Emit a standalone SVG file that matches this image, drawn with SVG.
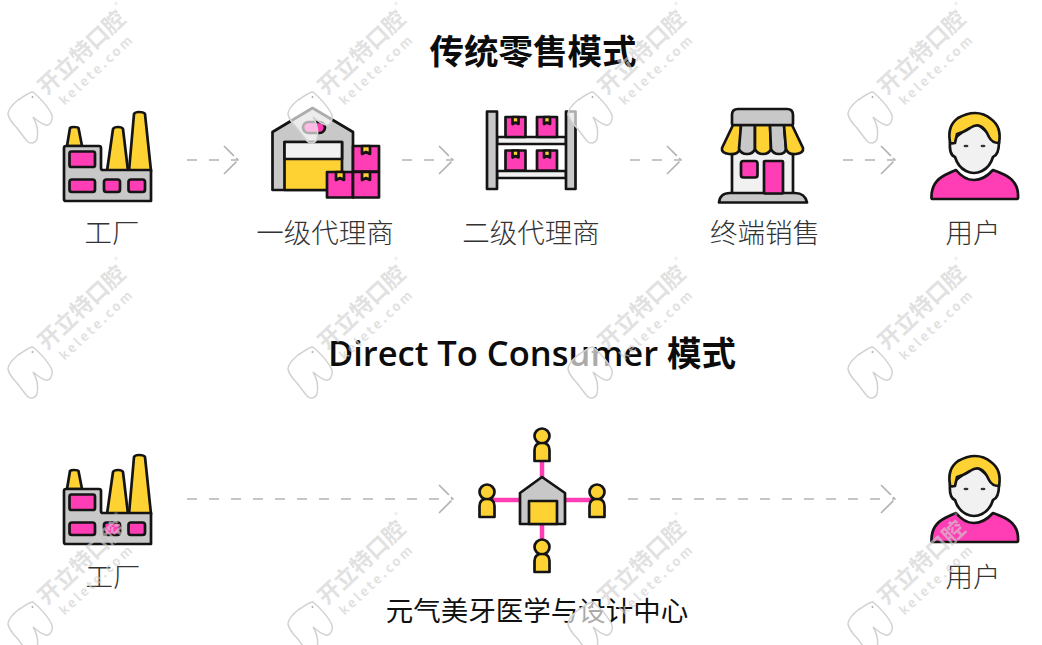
<svg xmlns="http://www.w3.org/2000/svg" xmlns:xlink="http://www.w3.org/1999/xlink" width="1042" height="645" viewBox="0 0 1042 645">
<style>
.k{stroke:#141414;stroke-width:2.700;stroke-linejoin:round;stroke-linecap:round}
.y{fill:#ffd233}.p{fill:#ff3db4}.g{fill:#c8c8c8}.l{fill:#f1f1f1}
.t{font-family:"Open Sans","Noto Sans CJK SC",sans-serif;font-weight:600;fill:#0c0c0c;text-anchor:middle}
.c{font-family:"Noto Sans CJK SC",sans-serif;font-weight:200;font-size:27.500px;fill:#333;text-anchor:middle}
.a{fill:none;stroke:#b4b4b4;stroke-width:1.700;stroke-dasharray:10 12}
.h{fill:none;stroke:#b4b4b4;stroke-width:1.700}
.w{fill:#d0d0d0;fill-opacity:.65;font-family:"Noto Sans CJK SC",sans-serif;text-anchor:middle}
</style>
<defs>
<g id="factory">
<path class="k y" d="M67 146L70 128Q71 127 74 127Q78 127 78.500 128L82 146Z"/>
<path class="k y" d="M107 171L113 129Q114 127 118 127Q122 127 123 129L128 171Z"/>
<path class="k y" d="M129 171L134 114Q135 112 139 112Q144 112 145 114L151 171Z"/>
<path class="k g" d="M64 148Q64 146 66 146L99 146Q101 146 101 148L101 168Q101 170 103 170L151 170L151 201L66 201Q64 201 64 199Z"/>
<rect class="k p" x="69.500" y="151.500" width="25.500" height="15.500" rx="2"/>
<rect class="k p" x="69.500" y="179.500" width="25.500" height="12.500" rx="2.500"/>
<rect class="k p" x="104" y="179.500" width="16" height="12.500" rx="2.500"/>
<rect class="k p" x="128.500" y="179.500" width="16.500" height="12.500" rx="2.500"/>
</g>
<g id="box">
<rect class="k p" width="26" height="25.500"/>
<path class="k y" d="M9 0L17 0L17 8L13 6L9 8Z" stroke-width="2"/>
</g>
<g id="sbox">
<rect class="k p" width="20" height="20" stroke-width="2.200"/>
<path class="k y" d="M7 0L13 0L13 7L10 5.500L7 7Z" stroke-width="1.600"/>
</g>
<g id="person">
<path class="k p" d="M931.500 198Q931 182 945 175Q951 172 956 170Q964 180 974 180Q984 180 993 170Q999 172 1005 175Q1019 182 1018 198Q1018 199 1016 199L933 199Q931.500 199 931.500 198Z"/>
<path class="k l" d="M950 142Q949 155 955 157Q958 167 966 171Q974 175 982 171Q990 167 993 157Q999 155 999 142L975 122Z"/>
<path class="k y" d="M955 143Q950 144 950 142Q947 126 958 118Q967 113 975 113Q984 113 991 119Q1002 127 999 143Q992 143 989 137Q985 128 980 126Q976 124 970 128Q962 133 957 134Z"/>
<ellipse cx="966" cy="146" rx="2.500" ry="1.300" fill="#333"/>
<ellipse cx="983" cy="146" rx="2.500" ry="1.300" fill="#333"/>
</g>
<g id="mini">
<circle class="k y" cx="0" cy="-24" r="7.500" stroke-width="2"/>
<path class="k y" d="M-7.500 1L-7.500 -10Q-7.500 -17 0 -17Q7.500 -17 7.500 -10L7.500 1Z" stroke-width="2"/>
</g>
<g id="chev"><path class="h" d="M0 -14L14 0L0 14" stroke-dasharray="14 3 3 2 22"/></g>
<g id="wm">
<path d="M33 92C38 96 48 106 52 115C53 121 50 126 46 125C41 124 37 120 33 117C36 122 39 130 37 139C35 144 30 144 27 141C23 136 20 132 17 128C13 124 9 119 8 114C8 109 12 105 18 100C23 97 29 92 33 92Z" fill="#fff" fill-opacity=".65" stroke="#d2d2d2" stroke-width="1.500"/>
<circle cx="32.500" cy="97" r="1" fill="#aaa"/>
<text class="w" font-size="22" font-weight="700" transform="translate(82 53) rotate(-43)" y="7">开立特口腔</text>
<text class="w" font-size="13" font-weight="700" letter-spacing="2.600" transform="translate(97 70) rotate(-43)" y="4">kelete.com</text>
<text class="w" font-size="8" transform="translate(116 6)" y="2">®</text>
</g>
</defs>

<rect width="1042" height="645" fill="#fff"/>

<g id="connectors">
<path class="a" d="M187 160H238"/><use href="#chev" x="224" y="160"/>
<path class="a" d="M402 160H453"/><use href="#chev" x="439" y="160"/>
<path class="a" d="M630 160H681"/><use href="#chev" x="667" y="160"/>
<path class="a" d="M843 160H895"/><use href="#chev" x="881" y="160"/>
<path class="a" d="M187 499H453" stroke-dasharray="16 17"/><use href="#chev" x="439" y="499"/>
<path class="a" d="M628 499H895" stroke-dasharray="16 17"/><use href="#chev" x="881" y="499"/>
</g>

<g id="title-top"><text class="t" x="533" y="64" font-size="34.500">传统零售模式</text></g>
<g id="title-bottom"><text class="t" x="532" y="366" font-size="34.500">Direct To Consumer 模式</text></g>

<g id="node-factory-1"><use href="#factory"/><text class="c" x="112" y="243">工厂</text></g>

<g id="node-agent-1">
<path class="k g" d="M272.500 132L312.500 108L353 132L353 190L272.500 190Z"/>
<rect class="k p" x="303" y="122" width="22" height="11" rx="5.500"/>
<rect class="k y" x="284.500" y="142" width="57.500" height="48"/>
<rect class="k l" x="284.500" y="142" width="57.500" height="17"/>
<use href="#box" x="353" y="146"/>
<use href="#box" x="327" y="172"/>
<use href="#box" x="353" y="172"/>
<text class="c" x="325" y="243">一级代理商</text>
</g>

<g id="node-agent-2">
<rect class="k l" x="497" y="137" width="69" height="7"/>
<rect class="k l" x="497" y="171" width="69" height="7"/>
<use href="#sbox" x="505.500" y="117"/><use href="#sbox" x="537" y="117"/>
<use href="#sbox" x="505.500" y="150.500"/><use href="#sbox" x="537" y="150.500"/>
<rect class="k g" x="487" y="111.500" width="10" height="77.500"/>
<rect class="k g" x="566" y="111.500" width="9.500" height="77.500"/>
<text class="c" x="531" y="243">二级代理商</text>
</g>

<g id="node-retail">
<rect class="k l" x="732" y="145" width="61" height="49"/>
<path class="k g" d="M719 202.500Q720 193 730 193L795 193Q805 193 807 202.500Z"/>
<rect class="k p" x="741" y="161" width="16.500" height="16.500" rx="2.500"/>
<rect class="k p" x="764" y="161" width="19" height="32.500" rx="1"/>
<path class="k y" d="M733 125L722 148Q721 153 729 154Q738 155 740 149L741 125Z"/>
<path class="k g" d="M741 125L739 149Q741 154 747 154Q753 154 755 149L755 125Z"/>
<path class="k y" d="M755 125L755 149Q757 154 763 154Q769 154 771 149L770 125Z"/>
<path class="k g" d="M770 125L771 149Q773 154 779 154Q785 154 786 149L784 125Z"/>
<path class="k y" d="M784 125L786 149Q788 155 796 154Q804 153 803 148L792 125Z"/>
<path class="k g" d="M732 124L732 115Q732 109 738 109L787 109Q793 109 793 115L793 124Q793 125 792 125L733 125Q732 125 732 124Z"/>
<text class="c" x="765" y="243">终端销售</text>
</g>

<g id="node-user-1"><use href="#person"/><text class="c" x="973" y="243">用户</text></g>

<g id="node-factory-2"><use href="#factory" y="343"/><text class="c" x="113" y="587">工厂</text></g>

<g id="node-center">
<path d="M542 460V540M492 500H593" fill="none" stroke="#ff3db4" stroke-width="4.500"/>
<path class="k g" d="M520 493L542 477L565 493L565 524L520 524Z" stroke-width="2"/>
<rect class="k y" x="529" y="501" width="28" height="23" stroke-width="2"/>
<use href="#mini" x="542" y="460"/>
<use href="#mini" x="487" y="516"/>
<use href="#mini" x="597" y="516"/>
<use href="#mini" x="542" y="571"/>
<text x="537" y="621" text-anchor="middle" font-family="Noto Sans CJK SC,sans-serif" font-size="27.500" fill="#111">元气美牙医学与设计中心</text>
</g>

<g id="node-user-2"><use href="#person" y="343"/><text class="c" x="973" y="587">用户</text></g>

<g id="watermark">
<use href="#wm"/><use href="#wm" x="280"/><use href="#wm" x="560"/><use href="#wm" x="840"/>
<use href="#wm" y="255"/><use href="#wm" x="280" y="255"/><use href="#wm" x="560" y="255"/><use href="#wm" x="840" y="255"/>
<use href="#wm" y="510"/><use href="#wm" x="280" y="510"/><use href="#wm" x="560" y="510"/><use href="#wm" x="840" y="510"/>
</g>
</svg>
